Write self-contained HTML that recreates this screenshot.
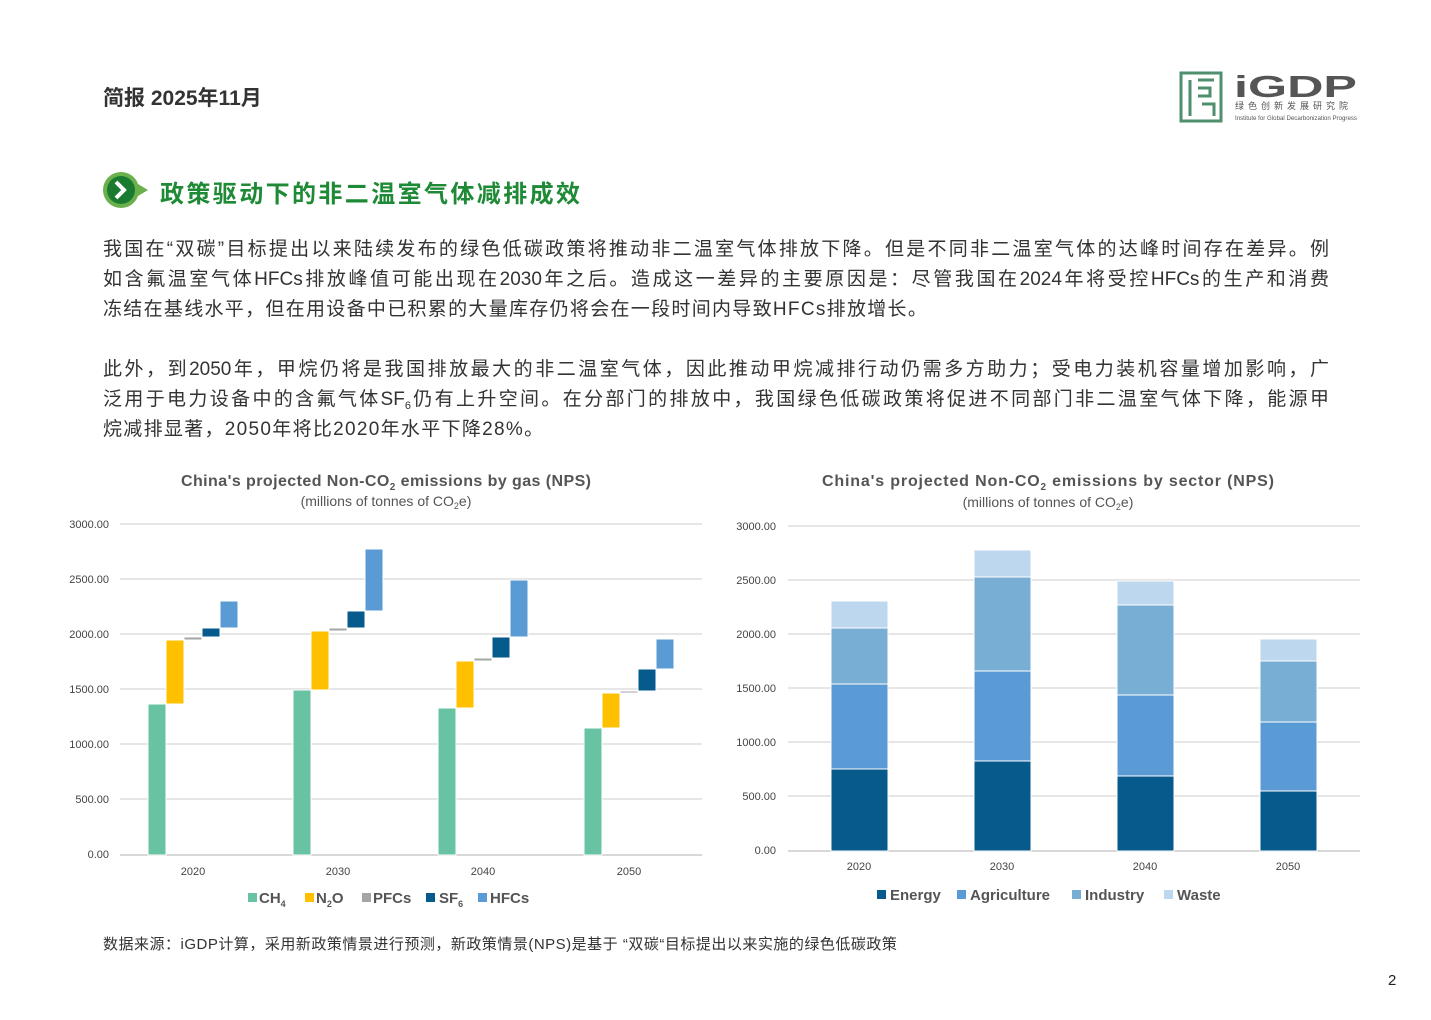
<!DOCTYPE html>
<html><head><meta charset="utf-8"><style>
body{margin:0;width:1431px;height:1020px;background:#fff;font-family:"Liberation Sans","Noto Sans CJK SC",sans-serif;position:relative;overflow:hidden}
.a{position:absolute}
.p{position:absolute;left:103px;width:1226px;font-size:19px;line-height:30px;color:#333}
.j{text-align:justify;text-align-last:justify;height:30px;white-space:nowrap;display:flex;justify-content:space-between}
.j span{display:inline}
sub{font-size:11px;line-height:0;vertical-align:-4px}
</style></head><body>
<div class="a" style="left:103px;top:82px;font-size:21px;font-weight:bold;color:#333">简报 2025年11月</div>
<svg class="a" style="left:1178px;top:70px" width="185" height="56">
<rect x="3" y="3" width="40" height="48" fill="none" stroke="#4f8f6e" stroke-width="3"/>
<path d="M12 10v36M20 10h16M20 18h12v8h-12M24 34h12v12" fill="none" stroke="#4f8f6e" stroke-width="3"/>
<text x="56" y="27" font-size="31" font-weight="bold" fill="#555" font-family="Liberation Sans" textLength="123" lengthAdjust="spacingAndGlyphs">iGDP</text>
<text x="57" y="39" font-size="9" fill="#555" letter-spacing="4" font-family="Noto Sans CJK SC">绿色创新发展研究院</text>
<text x="57" y="50" font-size="6" fill="#555" textLength="122" lengthAdjust="spacingAndGlyphs">Institute for Global Decarbonization Progress</text>
</svg>
<svg class="a" style="left:101px;top:170px" width="50" height="40"><path d="M20 2a18 18 0 1 0 0 36a18 18 0 0 0 17-12l10-6l-10-6A18 18 0 0 0 20 2z" fill="#6ab04c"/><circle cx="20" cy="20" r="14" fill="#1a7a30"/><path d="M15 12l8 8l-8 8" stroke="#fff" stroke-width="4" fill="none"/></svg>
<div class="a" style="left:160px;top:174px;font-size:24px;font-weight:bold;color:#1e8a36;letter-spacing:2.4px">政策驱动下的非二温室气体减排成效</div>
<div class="p" style="top:235px;text-align:justify">
<div style="text-align-last:justify;height:30px">我国在“双碳”目标提出以来陆续发布的绿色低碳政策将推动非二温室气体排放下降。但是不同非二温室气体的达峰时间存在差异。例</div>
<div style="text-align-last:justify;height:30px">如含氟温室气体HFCs排放峰值可能出现在2030年之后。造成这一差异的主要原因是：尽管我国在2024年将受控HFCs的生产和消费</div>
<div style="height:30px;letter-spacing:1.3px">冻结在基线水平，但在用设备中已积累的大量库存仍将会在一段时间内导致HFCs排放增长。</div>
</div>
<div class="p" style="top:355px;text-align:justify">
<div style="text-align-last:justify;height:30px">此外，到2050年，甲烷仍将是我国排放最大的非二温室气体，因此推动甲烷减排行动仍需多方助力；受电力装机容量增加影响，广</div>
<div style="text-align-last:justify;height:30px">泛用于电力设备中的含氟气体SF<sub>6</sub>仍有上升空间。在分部门的排放中，我国绿色低碳政策将促进不同部门非二温室气体下降，能源甲</div>
<div style="height:30px;letter-spacing:1.3px">烷减排显著，2050年将比2020年水平下降28%。</div>
</div>
<svg class="a" style="left:0;top:460px" width="1431" height="460" font-family="Liberation Sans">
<g fill="#444" text-anchor="middle">
<text x="386" y="26" font-size="16" font-weight="bold" fill="#555" textLength="410">China's projected Non-CO<tspan font-size="10" dy="4">2</tspan><tspan dy="-4"> emissions by gas (NPS)</tspan></text>
<text x="386" y="46" font-size="14" fill="#555">(millions of tonnes of CO<tspan font-size="9" dy="3">2</tspan><tspan dy="-3">e)</tspan></text>
<text x="1048" y="26" font-size="16" font-weight="bold" fill="#555" textLength="452">China's projected Non-CO<tspan font-size="10" dy="4">2</tspan><tspan dy="-4"> emissions by sector (NPS)</tspan></text>
<text x="1048" y="47" font-size="14" fill="#555">(millions of tonnes of CO<tspan font-size="9" dy="3">2</tspan><tspan dy="-3">e)</tspan></text>
</g>
<g stroke="#ddd" stroke-width="1.5">
<line x1="120" x2="702" y1="64" y2="64"/><line x1="120" x2="702" y1="119" y2="119"/><line x1="120" x2="702" y1="174" y2="174"/><line x1="120" x2="702" y1="229" y2="229"/><line x1="120" x2="702" y1="284" y2="284"/><line x1="120" x2="702" y1="339" y2="339"/><line x1="120" x2="702" y1="395" y2="395" stroke="#ccc"/>
<line x1="788" x2="1360" y1="66" y2="66"/><line x1="788" x2="1360" y1="120" y2="120"/><line x1="788" x2="1360" y1="174" y2="174"/><line x1="788" x2="1360" y1="228" y2="228"/><line x1="788" x2="1360" y1="282" y2="282"/><line x1="788" x2="1360" y1="336" y2="336"/><line x1="788" x2="1360" y1="391" y2="391" stroke="#ccc"/>
</g>
<g font-size="11" fill="#444" text-anchor="end">
<text x="109" y="68">3000.00</text><text x="109" y="123">2500.00</text><text x="109" y="178">2000.00</text><text x="109" y="233">1500.00</text><text x="109" y="288">1000.00</text><text x="109" y="343">500.00</text><text x="109" y="398">0.00</text>
<text x="776" y="70">3000.00</text><text x="776" y="124">2500.00</text><text x="776" y="178">2000.00</text><text x="776" y="232">1500.00</text><text x="776" y="286">1000.00</text><text x="776" y="340">500.00</text><text x="776" y="394">0.00</text>
</g>
<g font-size="11" fill="#444" text-anchor="middle">
<text x="193" y="415">2020</text><text x="338" y="415">2030</text><text x="483" y="415">2040</text><text x="629" y="415">2050</text>
<text x="859" y="410">2020</text><text x="1002" y="410">2030</text><text x="1145" y="410">2040</text><text x="1288" y="410">2050</text>
</g>
<g stroke="#fff" stroke-width="1">
<rect x="148" y="244" width="18" height="151" fill="#68c3a3"/><rect x="166" y="180" width="18" height="64" fill="#ffc000"/><rect x="184" y="177" width="18" height="3" fill="#a5a5a5"/><rect x="202" y="168" width="18" height="9" fill="#065a8c"/><rect x="220" y="141" width="18" height="27" fill="#5b9bd5"/>
<rect x="293" y="230" width="18" height="165" fill="#68c3a3"/><rect x="311" y="171" width="18" height="59" fill="#ffc000"/><rect x="329" y="168" width="18" height="3" fill="#a5a5a5"/><rect x="347" y="151" width="18" height="17" fill="#065a8c"/><rect x="365" y="89" width="18" height="62" fill="#5b9bd5"/>
<rect x="438" y="248" width="18" height="147" fill="#68c3a3"/><rect x="456" y="201" width="18" height="47" fill="#ffc000"/><rect x="474" y="198" width="18" height="3" fill="#a5a5a5"/><rect x="492" y="177" width="18" height="21" fill="#065a8c"/><rect x="510" y="120" width="18" height="57" fill="#5b9bd5"/>
<rect x="584" y="268" width="18" height="127" fill="#68c3a3"/><rect x="602" y="233" width="18" height="35" fill="#ffc000"/><rect x="620" y="231" width="18" height="2" fill="#a5a5a5"/><rect x="638" y="209" width="18" height="22" fill="#065a8c"/><rect x="656" y="179" width="18" height="30" fill="#5b9bd5"/>
<rect x="831" y="309" width="57" height="82" fill="#065a8c"/><rect x="831" y="224" width="57" height="85" fill="#5b9bd5"/><rect x="831" y="168" width="57" height="56" fill="#79aed4"/><rect x="831" y="141" width="57" height="27" fill="#bdd7ee"/>
<rect x="974" y="301" width="57" height="90" fill="#065a8c"/><rect x="974" y="211" width="57" height="90" fill="#5b9bd5"/><rect x="974" y="117" width="57" height="94" fill="#79aed4"/><rect x="974" y="90" width="57" height="27" fill="#bdd7ee"/>
<rect x="1117" y="316" width="57" height="75" fill="#065a8c"/><rect x="1117" y="235" width="57" height="81" fill="#5b9bd5"/><rect x="1117" y="145" width="57" height="90" fill="#79aed4"/><rect x="1117" y="121" width="57" height="24" fill="#bdd7ee"/>
<rect x="1260" y="331" width="57" height="60" fill="#065a8c"/><rect x="1260" y="262" width="57" height="69" fill="#5b9bd5"/><rect x="1260" y="201" width="57" height="61" fill="#79aed4"/><rect x="1260" y="179" width="57" height="22" fill="#bdd7ee"/>
</g>
<g font-size="15" font-weight="bold" fill="#555">
<rect x="248" y="433" width="9" height="9" fill="#68c3a3"/><text x="259" y="443">CH<tspan font-size="9" dy="4">4</tspan></text>
<rect x="305" y="433" width="9" height="9" fill="#ffc000"/><text x="316" y="443">N<tspan font-size="9" dy="4">2</tspan><tspan dy="-4">O</tspan></text>
<rect x="362" y="433" width="9" height="9" fill="#a5a5a5"/><text x="373" y="443">PFCs</text>
<rect x="426" y="433" width="9" height="9" fill="#065a8c"/><text x="439" y="443">SF<tspan font-size="9" dy="4">6</tspan></text>
<rect x="478" y="433" width="9" height="9" fill="#5b9bd5"/><text x="490" y="443">HFCs</text>
<rect x="877" y="430" width="9" height="9" fill="#065a8c"/><text x="890" y="440">Energy</text>
<rect x="957" y="430" width="9" height="9" fill="#5b9bd5"/><text x="970" y="440">Agriculture</text>
<rect x="1072" y="430" width="9" height="9" fill="#79aed4"/><text x="1085" y="440">Industry</text>
<rect x="1164" y="430" width="9" height="9" fill="#bdd7ee"/><text x="1177" y="440">Waste</text>
</g>
</svg>
<div class="a" style="left:103px;top:933px;font-size:15px;letter-spacing:0.5px;color:#333">数据来源：iGDP计算，采用新政策情景进行预测，新政策情景(NPS)是基于 “双碳“目标提出以来实施的绿色低碳政策</div>
<div class="a" style="left:1388px;top:972px;font-size:15px;color:#222">2</div>
</body></html>
